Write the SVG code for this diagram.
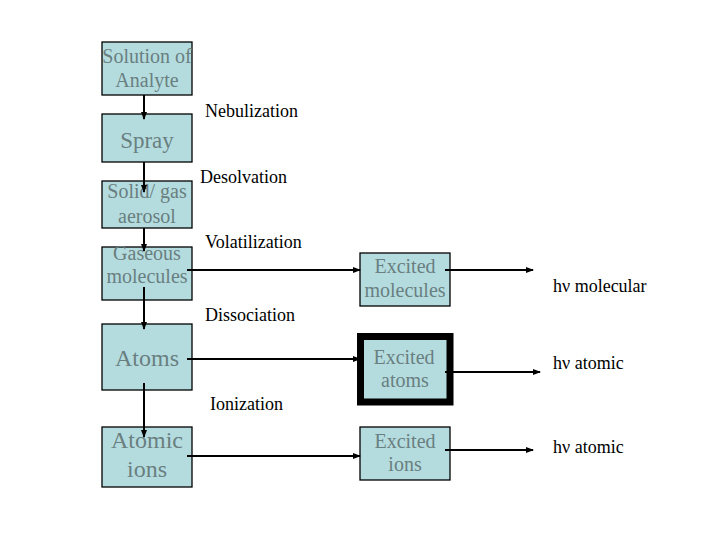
<svg xmlns="http://www.w3.org/2000/svg" width="720" height="540" viewBox="0 0 720 540">
<defs>
<marker id="ah" markerWidth="8" markerHeight="6" refX="7" refY="3" orient="auto" markerUnits="userSpaceOnUse">
<path d="M0,0 L8,3 L0,6 Z" fill="#000"/>
</marker>
</defs>
<style>
.box{fill:#b4dcdf;stroke:#000;stroke-width:1.3}
.thick{fill:#b4dcdf;stroke:#000;stroke-width:7}
.bt{font-family:"Liberation Serif","Times New Roman",serif;fill:#6a7f7f;text-anchor:middle}
.lbl{font-family:"Liberation Serif","Times New Roman",serif;fill:#000;font-size:18px}
.con{stroke:#000;stroke-width:2;fill:none;marker-end:url(#ah)}
</style>
<rect width="720" height="540" fill="#fff"/>
<g id="n-solution"><rect class="box" x="102" y="42" width="90" height="53"/><text class="bt" font-size="20" x="147" y="63">Solution of</text><text class="bt" font-size="20" x="147" y="87">Analyte</text></g>
<g id="n-spray"><rect class="box" x="102" y="114" width="90" height="48"/><text class="bt" font-size="23" x="147" y="148">Spray</text></g>
<g id="n-aerosol"><rect class="box" x="102" y="181" width="90" height="47"/><text class="bt" font-size="20" x="147" y="198">Solid/ gas</text><text class="bt" font-size="20" x="147" y="223">aerosol</text></g>
<g id="n-gaseous"><rect class="box" x="102" y="247" width="90" height="53"/><text class="bt" font-size="20" x="147" y="260">Gaseous</text><text class="bt" font-size="20" x="147" y="283">molecules</text></g>
<g id="n-atoms"><rect class="box" x="102" y="324" width="90" height="66"/><text class="bt" font-size="24" x="147" y="366">Atoms</text></g>
<g id="n-ions"><rect class="box" x="102" y="427" width="90" height="60"/><text class="bt" font-size="24" x="147" y="448">Atomic</text><text class="bt" font-size="24" x="147" y="477">ions</text></g>
<g id="n-exmol"><rect class="box" x="360" y="253" width="90" height="53"/><text class="bt" font-size="20" x="405" y="273">Excited</text><text class="bt" font-size="20" x="405" y="297">molecules</text></g>
<g id="n-exatoms"><rect class="thick" x="360.5" y="336.5" width="89.5" height="65.5"/><text class="bt" font-size="20" x="404" y="364">Excited</text><text class="bt" font-size="20" x="405" y="387">atoms</text></g>
<g id="n-exions"><rect class="box" x="360" y="427" width="90" height="53"/><text class="bt" font-size="20" x="405" y="448">Excited</text><text class="bt" font-size="20" x="405" y="471">ions</text></g>
<g id="connectors">
<line class="con" x1="144" y1="95" x2="144" y2="119"/>
<line class="con" x1="144" y1="162" x2="144" y2="192"/>
<line class="con" x1="144" y1="228" x2="144" y2="251"/>
<line class="con" x1="144" y1="287" x2="144" y2="329"/>
<line class="con" x1="144" y1="383" x2="144" y2="437"/>
<line class="con" x1="187" y1="270" x2="360" y2="270"/>
<line class="con" x1="187" y1="359" x2="360" y2="359"/>
<line class="con" x1="187" y1="456" x2="360" y2="456"/>
<line class="con" x1="445" y1="270" x2="533" y2="270"/>
<line class="con" x1="445" y1="372" x2="540" y2="372"/>
<line class="con" x1="445" y1="450" x2="533" y2="450"/>
</g>
<g id="labels">
<text class="lbl" x="205" y="117">Nebulization</text>
<text class="lbl" x="200" y="183">Desolvation</text>
<text class="lbl" x="205" y="248">Volatilization</text>
<text class="lbl" x="205" y="321">Dissociation</text>
<text class="lbl" x="210" y="410">Ionization</text>
<text class="lbl" x="553" y="292">hν molecular</text>
<text class="lbl" x="553" y="369">hν atomic</text>
<text class="lbl" x="553" y="453">hν atomic</text>
</g>
</svg>
